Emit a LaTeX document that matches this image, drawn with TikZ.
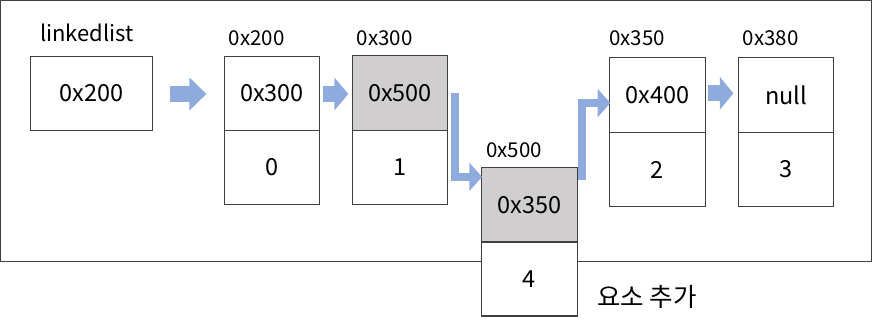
\documentclass[tikz,border=0pt]{standalone}
\usepackage{fontspec}
\setmainfont{Noto Sans CJK KR}
\usetikzlibrary{arrows.meta,calc}
\definecolor{arrowblue}{HTML}{8FAADC}
\definecolor{cellgray}{HTML}{D0CECE}
\definecolor{edgegray}{HTML}{404040}
\begin{document}
\begin{tikzpicture}[x=1pt,y=-1pt,
  cell/.style={draw=edgegray, line width=1.2pt, fill=white, minimum width=95pt,
    minimum height=74pt, inner sep=0pt, font=\fontsize{23.5}{27}\selectfont, text=black},
  graycell/.style={cell, fill=cellgray},
  addr/.style={anchor=base west, inner sep=0pt, font=\fontsize{20.5}{24}\selectfont},
  fatarrow/.style={draw=arrowblue, line width=16pt},
  thinarrow/.style={draw=arrowblue, line width=7.5pt, line join=miter,
    -{Triangle[length=12.7pt,width=27.5pt]}}]
\useasboundingbox (0,0) rectangle (872,328);
\draw[edgegray, line width=1.2pt] (0.6,0.6) rectangle (871.4,261.5);
% head pointer
\node[cell, minimum width=122pt] (ll) at (91.5,93.5) {0x200};
\node[addr, font=\fontsize{22}{26}\selectfont] (lltitle) at (40,41.7) {linkedlist};
% node 0x200
\node[cell] (n200t) at (272,93.5) {0x300};
\node[cell] (n200b) at (272,167.5) {0};
\node[addr] (a200) at (228.5,45.7) {0x200};
% node 0x300
\node[graycell, minimum height=75pt] (n300t) at (400,93) {0x500};
\node[cell] (n300b) at (400,167.5) {1};
\node[addr] (a300) at (356.5,45.7) {0x300};
% node 0x500 (new)
\node[graycell, minimum width=96pt, minimum height=74.5pt] (n500t) at (529.5,204.75) {0x350};
\node[cell, minimum width=96pt] (n500b) at (529.5,279) {4};
\node[addr] (a500) at (486,157.3) {0x500};
% node 0x350
\node[cell, minimum width=96pt, minimum height=75pt] (n350t) at (657.5,95) {0x400};
\node[cell, minimum width=96pt] (n350b) at (657.5,169.5) {2};
\node[addr] (a350) at (609,45.7) {0x350};
% node 0x380
\node[cell, minimum height=75pt] (n380t) at (786,95) {null};
\node[cell] (n380b) at (786,169.5) {3};
\node[addr] (a380) at (742.5,45.7) {0x380};
% caption
\node[anchor=base west, inner sep=0pt, font=\fontsize{25.5}{30}\selectfont] (cap) at (597,306.5) {요소 추가};
% arrows
\draw[fatarrow, -{Triangle[length=17pt,width=32pt]}] ($(ll.east)+(16.5,0.5)$) -- ($(n200t.west)+(-17.5,0.5)$);
\draw[fatarrow, -{Triangle[length=14pt,width=32pt]}] ($(n200t.east)+(2.5,0.5)$) -- ($(n300t.west)+(-3.5,1)$);
\draw[thinarrow] ($(n300t.east)+(7,0)$) |- ($(n500t.north west)+(1.2,10)$);
\draw[thinarrow] ($(n500t.east)+(4,-24.75)$) |- ($(n350t.west)+(1.5,8)$);
\draw[fatarrow, -{Triangle[length=13.5pt,width=32pt]}] ($(n350t.east)+(2.2,-1.7)$) -- ($(n380t.west)+(-4.5,-1.7)$);
\end{tikzpicture}
\end{document}
